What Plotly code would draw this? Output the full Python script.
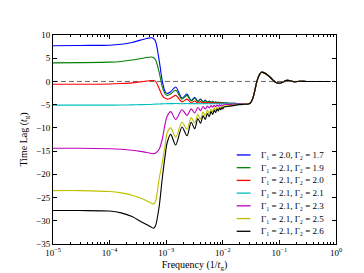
import plotly.graph_objects as go

# ---- data ----
freq = [1e-5, 3e-5, 1e-4, 1.6e-4, 2.5e-4, 3.5e-4, 4.5e-4, 5.5e-4, 6.0e-4, 6.5e-4,
        7.5e-4, 8.5e-4, 9.5e-4, 1.04e-3, 1.2e-3,
        1.47e-3, 1.90e-3, 2.33e-3, 2.76e-3, 3.19e-3, 3.62e-3, 4.05e-3, 4.48e-3,
        4.91e-3, 5.34e-3, 5.77e-3, 6.20e-3, 6.63e-3, 7.06e-3, 7.49e-3, 7.92e-3,
        8.35e-3, 8.78e-3, 9.21e-3, 9.64e-3, 1.007e-2, 1.05e-2,
        1.3e-2, 1.6e-2, 2.0e-2, 2.4e-2,
        2.8e-2, 3.1e-2, 3.4e-2, 3.7e-2, 4.0e-2, 4.4e-2, 4.8e-2, 5.3e-2, 6.0e-2,
        7.0e-2, 8.0e-2, 9.0e-2, 1.0e-1, 1.15e-1, 1.3e-1, 1.5e-1, 1.8e-1, 2.3e-1,
        3.0e-1, 4.5e-1, 8.0e-1]

tail = [-4.85, -4.6, -3.6, -1.8, 0.0, 1.4, 2.0, 1.9, 1.5, 0.8, 0.1, -0.3, -0.4,
        -0.15, 0.2, 0.2, -0.05, 0.05, 0.0, 0.0, 0.0]

lag_a = [7.7, 7.75, 7.8, 8.0, 8.4, 8.9, 9.25, 9.4, 9.2, 8.6, 4.6, 0.2, -2.1, -2.6, -2.2,
         -1.2, -3.6, -2.7, -4.1, -3.4, -4.3, -3.8, -4.4, -4.0, -4.5, -4.2, -4.55, -4.3,
         -4.6, -4.4, -4.6, -4.45, -4.62, -4.5, -4.63, -4.55, -4.65,
         -4.68, -4.72, -4.76, -4.8] + tail
lag_b = [4.0, 4.05, 4.15, 4.3, 4.6, 4.9, 5.15, 5.25, 5.1, 4.6, 2.0, -1.1, -2.6, -3.0, -2.7,
         -1.9, -3.8, -3.0, -4.2, -3.6, -4.35, -3.9, -4.45, -4.1, -4.5, -4.25, -4.55, -4.35,
         -4.6, -4.45, -4.6, -4.5, -4.62, -4.52, -4.63, -4.57, -4.65,
         -4.68, -4.72, -4.76, -4.8] + tail
lag_c = [-0.6, -0.6, -0.55, -0.45, -0.3, -0.1, 0.1, 0.2, 0.2, 0.0, -1.5, -3.0, -3.6, -3.8, -3.6,
         -3.0, -4.4, -3.8, -4.6, -4.2, -4.65, -4.35, -4.7, -4.45, -4.7, -4.5, -4.72, -4.55,
         -4.72, -4.6, -4.73, -4.62, -4.73, -4.65, -4.74, -4.68, -4.74,
         -4.76, -4.78, -4.8, -4.83] + tail
lag_d = [-5.1, -5.1, -5.1, -5.08, -5.05, -5.0, -4.97, -4.93, -4.9, -4.88, -4.85, -4.82, -4.8, -4.78, -4.78,
         -4.75, -4.8, -4.76, -4.8, -4.77, -4.8, -4.78, -4.8, -4.78, -4.8, -4.79, -4.8, -4.79,
         -4.8, -4.8, -4.8, -4.8, -4.8, -4.8, -4.8, -4.8, -4.8,
         -4.82, -4.83, -4.84, -4.85] + tail
lag_e = [-14.4, -14.4, -14.5, -14.6, -14.8, -15.05, -15.3, -15.5, -15.55, -15.4, -14.6, -12.5, -9.3, -7.5, -6.5,
         -8.2, -6.1, -7.3, -5.9, -6.8, -5.6, -6.3, -5.4, -5.95, -5.3, -5.7, -5.2, -5.55,
         -5.15, -5.45, -5.1, -5.35, -5.05, -5.25, -5.02, -5.18, -5.0,
         -4.95, -4.9, -4.88, -4.86] + tail
lag_f = [-23.5, -23.5, -23.7, -24.0, -24.5, -25.1, -25.7, -26.2, -26.4, -25.8, -21.0, -17.5, -14.0, -11.0, -10.0,
         -12.0, -8.8, -10.3, -7.8, -9.0, -7.1, -8.1, -6.6, -7.4, -6.2, -6.9, -5.95, -6.5,
         -5.75, -6.2, -5.6, -5.95, -5.45, -5.75, -5.35, -5.6, -5.3,
         -5.2, -5.05, -4.95, -4.9] + tail
lag_g = [-27.8, -27.8, -27.9, -28.3, -29.1, -30.1, -30.8, -31.4, -31.6, -31.0, -27.0, -21.0, -16.3, -13.2, -11.4,
         -13.7, -9.8, -11.7, -8.8, -10.2, -8.0, -9.0, -7.4, -8.2, -6.9, -7.6, -6.5, -7.1,
         -6.2, -6.7, -5.95, -6.35, -5.75, -6.1, -5.6, -5.9, -5.5,
         -5.35, -5.15, -5.0, -4.92] + tail

names = ["Γ₁ = 2.0, Γ₂ = 1.7", "Γ₁ = 2.1, Γ₂ = 1.9", "Γ₁ = 2.1, Γ₂ = 2.0",
         "Γ₁ = 2.1, Γ₂ = 2.1", "Γ₁ = 2.1, Γ₂ = 2.3", "Γ₁ = 2.1, Γ₂ = 2.5",
         "Γ₁ = 2.1, Γ₂ = 2.6"]
series = [lag_a, lag_b, lag_c, lag_d, lag_e, lag_f, lag_g]
colors = ["#0000ff", "#008000", "#ff0000", "#00bfbf", "#bf00bf", "#bfbf00", "#000000"]

zero_x = [1e-5, 8e-1]
zero_y = [0, 0]

x_tickvals = [1e-5, 1e-4, 1e-3, 1e-2, 1e-1, 1e0]
x_ticktext = ["10<sup>−5</sup>", "10<sup>−4</sup>", "10<sup>−3</sup>",
              "10<sup>−2</sup>", "10<sup>−1</sup>", "10<sup>0</sup>"]
y_tickvals = [-35, -30, -25, -20, -15, -10, -5, 0, 5, 10]

minor_vals = [k * 10.0 ** e for e in range(-5, 0) for k in range(2, 10)]

FONT = "Liberation Serif"

fig = go.Figure()
fig.add_trace(go.Scatter(x=zero_x, y=zero_y, mode="lines", showlegend=False,
                         line=dict(color="#666666", width=1, dash="5px,3px"),
                         hoverinfo="skip"))
for name, ys, c in zip(names, series, colors):
    fig.add_trace(go.Scatter(x=freq, y=ys, mode="lines", name=name, showlegend=False,
                             line=dict(color=c, width=1.1, shape="spline", smoothing=0.8)))

# compact legend (matplotlib-like spacing) built from names/colors
L_PLOT, R_PLOT, T_PLOT, B_PLOT = 45, 328, 27, 246
pw, ph = R_PLOT - L_PLOT, B_PLOT - T_PLOT
row0, row_step = 152.7, 13.33
for i, (name, c) in enumerate(zip(names, colors)):
    ypx = row0 + row_step * i
    yp = (B_PLOT - ypx) / ph
    fig.add_shape(type="line", xref="paper", yref="paper",
                  x0=(228.7 - L_PLOT) / pw, x1=(242.5 - L_PLOT) / pw, y0=yp, y1=yp,
                  line=dict(color=c, width=1.3))
    fig.add_annotation(xref="paper", yref="paper", x=(251 - L_PLOT) / pw, y=yp,
                       xanchor="left", yanchor="middle", text=name, showarrow=False,
                       font=dict(family=FONT, size=9, color="black"))

axis_common = dict(showline=True, linecolor="black", linewidth=1, mirror="ticks",
                   ticks="inside", ticklen=4, tickcolor="black", showgrid=False,
                   zeroline=False, tickfont=dict(family=FONT, size=9, color="black"))

fig.update_xaxes(type="log", range=[-5, 0], tickvals=x_tickvals, ticktext=x_ticktext,
                 minor=dict(tickvals=minor_vals, ticks="inside", ticklen=2,
                            tickcolor="black", showgrid=False),
                 title=dict(text="Frequency (1/<i>t</i><sub>g</sub>)",
                            font=dict(family=FONT, size=10, color="black"), standoff=4),
                 **axis_common)
fig.update_yaxes(range=[-35, 10], tickvals=y_tickvals,
                 title=dict(text="Time Lag (<i>t</i><sub>g</sub>)",
                            font=dict(family=FONT, size=10, color="black"), standoff=6),
                 **axis_common)

fig.update_layout(
    width=364, height=273,
    margin=dict(l=L_PLOT, r=364 - R_PLOT, t=T_PLOT, b=273 - B_PLOT),
    plot_bgcolor="white", paper_bgcolor="white",
    font=dict(family=FONT, size=9, color="black"),
    showlegend=False,
)

fig.write_html("out.html")
